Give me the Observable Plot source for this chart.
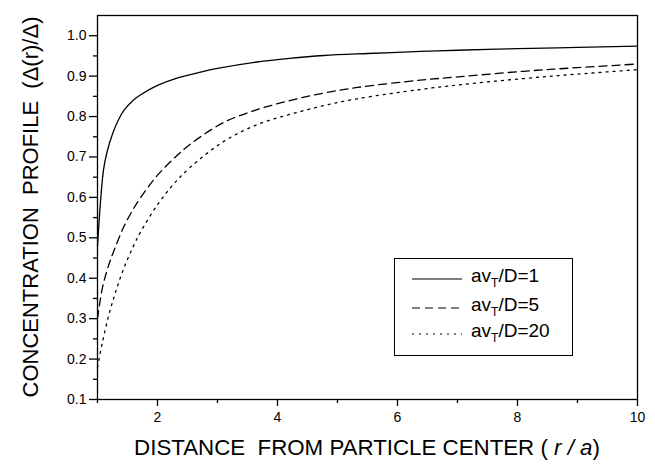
<!DOCTYPE html>
<html><head><meta charset="utf-8">
<script src="https://cdn.jsdelivr.net/npm/d3@7"></script>
<script src="https://cdn.jsdelivr.net/npm/@observablehq/plot@0.6"></script>
<style>
body{margin:0;background:#fff;}
#wrap{position:relative;width:655px;height:464px;font-family:"Liberation Sans",Arial,sans-serif;color:#000;}
#legend{position:absolute;left:394px;top:258px;width:179px;height:98px;border:1px solid #000;background:#fff;box-sizing:border-box;}
.row{position:absolute;left:0;height:20px;}
.row svg{position:absolute;left:17px;top:6px;}
.row span{position:absolute;left:76px;top:-5px;font-size:19px;white-space:nowrap;}
.row sub{font-size:12px;vertical-align:-5px;line-height:0;}
</style></head><body><div id="wrap"></div>
<script>
// Series: av_T/D = 1 (solid)
const r1 = [1.0, 1.1, 1.16, 1.25, 1.35, 1.44, 1.6, 1.72, 2.0, 2.3, 2.72, 3.0, 3.66, 4.2, 4.77, 5.5, 6.38, 7.0, 8.0, 9.0, 10.0];
const v1 = [0.48, 0.668, 0.713, 0.757, 0.792, 0.815, 0.841, 0.854, 0.877, 0.894, 0.91, 0.919, 0.935, 0.944, 0.951, 0.956, 0.961, 0.964, 0.968, 0.971, 0.974];
// Series: av_T/D = 5 (dashed)
const r5 = [1.0, 1.08, 1.16, 1.22, 1.3, 1.44, 1.6, 1.72, 2.0, 2.3, 2.55, 3.1, 3.66, 4.22, 4.77, 5.33, 6.38, 7.0, 8.1, 9.0, 10.0];
const v5 = [0.30, 0.375, 0.42, 0.447, 0.478, 0.528, 0.572, 0.60, 0.655, 0.70, 0.732, 0.785, 0.817, 0.84, 0.858, 0.872, 0.89, 0.898, 0.912, 0.921, 0.93];
// Series: av_T/D = 20 (dotted)
const r20 = [1.0, 1.08, 1.19, 1.3, 1.44, 1.6, 1.72, 2.0, 2.27, 2.55, 3.1, 3.66, 4.22, 4.77, 5.33, 6.38, 7.0, 8.1, 9.0, 10.0];
const v20 = [0.18, 0.24, 0.31, 0.365, 0.425, 0.48, 0.515, 0.582, 0.633, 0.675, 0.738, 0.78, 0.806, 0.827, 0.844, 0.867, 0.878, 0.894, 0.905, 0.916];

const seriesNames = ["av_T/D=1", "av_T/D=5", "av_T/D=20"];
const xMajor = [2, 4, 6, 8, 10];
const xMinor = [1, 3, 5, 7, 9];
const yMajor = [0.1, 0.2, 0.3, 0.4, 0.5, 0.6, 0.7, 0.8, 0.9, 1.0];
const yMinor = [0.15, 0.25, 0.35, 0.45, 0.55, 0.65, 0.75, 0.85, 0.95];
const xTitle = ["DISTANCE  FROM PARTICLE CENTER ( ", "r / a", ")"];
const yTitle = "CONCENTRATION  PROFILE  (\u0394(r)/\u0394)";

const dashes = ["none", "8,5", "2,5"];
const rows = [[r1, v1], [r5, v5], [r20, v20]].map(([r, v], i) => r.map((x, j) => ({r: x, v: v[j], s: seriesNames[i]})));

const plot = Plot.plot({
  width: 655, height: 464,
  marginLeft: 97, marginRight: 18, marginTop: 15, marginBottom: 65,
  style: {fontFamily: "'Liberation Sans', Arial, sans-serif", fontSize: "14px", color: "#000", background: "#fff", overflow: "visible"},
  x: {domain: [1, 10]},
  y: {domain: [0.1, 1.05]},
  marks: [
    ...rows.map((d, i) => Plot.line(d, {x: "r", y: "v", curve: "catmull-rom", stroke: "#000", strokeWidth: 1.3, strokeDasharray: dashes[i] === "none" ? null : dashes[i]})),
    Plot.frame({stroke: "#000", strokeWidth: 1.3}),
    Plot.axisX({ticks: xMinor, tickSize: 4, tickFormat: () => "", label: null, strokeWidth: 1.3}),
    Plot.axisX({ticks: xMajor, tickSize: 7, tickPadding: 6, tickFormat: d => String(d), label: null, strokeWidth: 1.3, fontSize: 14}),
    Plot.axisY({ticks: yMinor, tickSize: 4, tickFormat: () => "", label: null, strokeWidth: 1.3}),
    Plot.axisY({ticks: yMajor, tickSize: 8, tickPadding: 3, tickFormat: d3.format(".1f"), label: null, strokeWidth: 1.3, fontSize: 14})
  ]
});

const wrap = document.getElementById("wrap");
wrap.appendChild(plot);

const svg = d3.select(plot);
const xt = svg.append("text")
  .attr("x", 367).attr("y", 455)
  .attr("text-anchor", "middle")
  .attr("font-size", 22.3)
  .attr("fill", "#000")
  .style("white-space", "pre");
xt.append("tspan").text(xTitle[0]);
xt.append("tspan").attr("font-style", "italic").text(xTitle[1]);
xt.append("tspan").text(xTitle[2]);

svg.append("text")
  .attr("transform", "translate(38,207) rotate(-90)")
  .attr("text-anchor", "middle")
  .attr("font-size", 22)
  .attr("fill", "#000")
  .style("white-space", "pre")
  .text(yTitle);

// Legend (overlay, drawn inside the plot box)
const legend = document.createElement("div");
legend.id = "legend";
const rowTops = [11, 40, 66];
seriesNames.forEach((name, i) => {
  const row = document.createElement("div");
  row.className = "row";
  row.style.top = rowTops[i] + "px";
  const [pre, post] = name.split("_");
  const letter = post.charAt(0), rest = post.slice(1);
  row.innerHTML = `<svg width="52" height="6"><line x1="0" x2="50" y1="3" y2="3" stroke="#000" stroke-width="1.2" ${dashes[i] === "none" ? "" : `stroke-dasharray="${dashes[i]}"`}/></svg><span>${pre}<sub>${letter}</sub>${rest}</span>`;
  legend.appendChild(row);
});
wrap.appendChild(legend);
</script></body></html>
